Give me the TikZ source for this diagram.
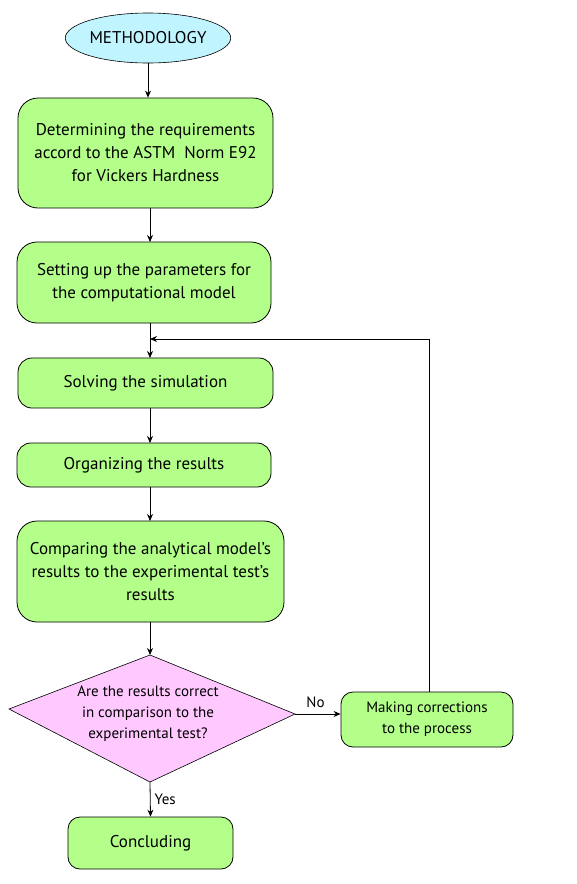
\documentclass[tikz,border=0pt]{standalone}
\usepackage{fontspec}
\setmainfont{PT Sans}
\usetikzlibrary{shapes.geometric,arrows.meta}
\definecolor{boxgreen}{RGB}{179,255,138}
\definecolor{ovalcyan}{RGB}{192,244,255}
\definecolor{decpink}{RGB}{255,200,255}
\begin{document}
\begin{tikzpicture}[x=1pt,y=-1pt,
  font=\fontsize{17}{23}\selectfont,
  proc/.style={draw, line width=0.8pt, fill=boxgreen, rounded corners=#1, align=center, inner sep=0pt},
  proc/.default=12pt,
  small/.style={font=\fontsize{15}{21}\selectfont},
  arr/.style={-{Stealth[length=7pt,width=6pt]}, line width=0.8pt},
  lbl/.style={font=\fontsize{15}{17}\selectfont, inner sep=1pt}]
\useasboundingbox (0,0) rectangle (577,884);

\node[ellipse, draw, line width=0.6pt, fill=ovalcyan, minimum width=142pt, minimum height=50pt, inner sep=0pt] (start) at (148,38) {METHODOLOGY};

\node[proc=20pt, minimum width=255pt, minimum height=110pt] (req) at (145.5,153)
  {Determining the requirements\\accord to the ASTM\ \ Norm E92\\for Vickers Hardness};

\node[proc=20pt, minimum width=254pt, minimum height=81pt] (param) at (144,282.5)
  {Setting up the parameters for\\the computational model};

\node[proc=14pt, minimum width=255pt, minimum height=50pt] (solve) at (145.5,383)
  {Solving the simulation};

\node[proc=14pt, minimum width=254pt, minimum height=44pt] (org) at (144,465)
  {Organizing the results};

\node[proc=20pt, minimum width=267pt, minimum height=101pt] (comp) at (150.5,571.5)
  {Comparing the analytical model's\\results to the experimental test's\\results};

\coordinate (dtop) at (150,655);
\coordinate (dright) at (295,714);
\coordinate (dbottom) at (150,782);
\coordinate (dleft) at (9,709);
\draw[line width=0.6pt, fill=decpink] (dtop) -- (dright) -- (dbottom) -- (dleft) -- cycle;
\node[small, align=center, inner sep=0pt] (quest) at (148,714)
  {Are the results correct\\in comparison to the\\experimental test?};

\node[proc=12pt, small, minimum width=172pt, minimum height=55pt] (fix) at (427,719.5)
  {Making corrections\\to the process};

\node[proc=12pt, minimum width=165pt, minimum height=52pt] (concl) at (150.5,843)
  {Concluding};

\coordinate (join) at (150,339);

\draw[arr] (start) -- (start.south |- req.north);
\draw[arr] (150,208) -- (150,242);
\draw[line width=0.8pt] (150,323) -- (join);
\draw[arr] (join) -- (150,358);
\draw[arr] (150,408) -- (150,443);
\draw[arr] (150,487) -- (150,521);
\draw[arr] (150,622) -- (dtop);
\draw[arr] (dright) -- (fix.west |- dright) node[lbl, pos=0.45, above=5pt] {No};
\draw[arr] (dbottom) -- (concl.north) node[lbl, midway, right=3pt] {Yes};
\draw[arr] (fix.north -| 429,0) |- (join);
\end{tikzpicture}
\end{document}
